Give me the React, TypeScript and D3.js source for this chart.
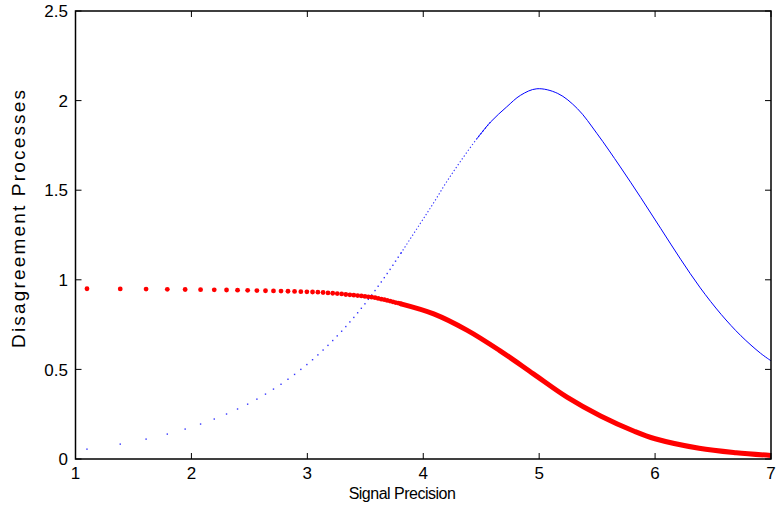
import React from 'react';
import * as d3 from 'd3';

// sample positions of the markers (sparse part, left side)
const markerX = [
  1.099, 1.386, 1.609, 1.792, 1.946, 2.079, 2.197, 2.303, 2.398, 2.485,
  2.565, 2.639, 2.708, 2.773, 2.833, 2.890, 2.944, 2.996, 3.045, 3.091,
  3.136, 3.178, 3.219, 3.258, 3.296, 3.332, 3.367, 3.401, 3.434, 3.466,
  3.497, 3.526, 3.555, 3.584, 3.611, 3.638, 3.664, 3.689, 3.714, 3.738,
  3.761, 3.784, 3.807,
];

const blueMarkerY = [
  0.055, 0.083, 0.111, 0.139, 0.167, 0.195, 0.223, 0.251, 0.279, 0.306,
  0.334, 0.362, 0.390, 0.417, 0.445, 0.472, 0.500, 0.527, 0.554, 0.581,
  0.608, 0.634, 0.661, 0.687, 0.713, 0.739, 0.765, 0.790, 0.816, 0.841,
  0.866, 0.891, 0.915, 0.940, 0.964, 0.988, 1.012, 1.035, 1.058, 1.081,
  1.104, 1.126, 1.148,
];

const redMarkerY = [
  0.950, 0.949, 0.948, 0.947, 0.946, 0.945, 0.944, 0.943, 0.942, 0.941,
  0.940, 0.939, 0.938, 0.937, 0.936, 0.935, 0.934, 0.933, 0.932, 0.931,
  0.929, 0.927, 0.925, 0.923, 0.921, 0.918, 0.916, 0.914, 0.912, 0.910,
  0.907, 0.905, 0.903, 0.900, 0.896, 0.892, 0.889, 0.885, 0.881, 0.877,
  0.873, 0.870, 0.866,
];

// dense part (markers merge into a curve)
const blueCurveX = [3.807, 3.97, 4.09, 4.20, 4.32, 4.46, 4.58, 4.72, 4.84, 4.98, 5.16, 5.33, 5.50, 5.70, 5.875, 6.05, 6.22, 6.39, 6.57, 6.74, 6.91, 7.0];
const blueCurveY = [1.148, 1.31, 1.43, 1.545, 1.66, 1.785, 1.88, 1.965, 2.03, 2.066, 2.04, 1.955, 1.815, 1.63, 1.46, 1.285, 1.115, 0.955, 0.807, 0.688, 0.59, 0.548];

const redCurveX = [3.807, 4.09, 4.38, 4.66, 4.95, 5.24, 5.53, 5.82, 6.0, 6.38, 6.7, 7.0];
const redCurveY = [0.866, 0.81, 0.718, 0.605, 0.475, 0.345, 0.24, 0.155, 0.113, 0.06, 0.035, 0.02];

const xTicks = [1, 2, 3, 4, 5, 6, 7];
const yTicks = [0, 0.5, 1, 1.5, 2, 2.5];

const W = 777;
const H = 515;
const margin = { top: 11, right: 6, bottom: 56, left: 75.5 };

export default function App() {
  const x = d3.scaleLinear().domain([1, 7]).range([margin.left, W - margin.right]);
  const y = d3.scaleLinear().domain([0, 2.5]).range([H - margin.bottom, margin.top]);

  const line = d3.line<[number, number]>()
    .x(d => x(d[0]))
    .y(d => y(d[1]))
    .curve(d3.curveCatmullRom.alpha(0.5));

  const bluePts: [number, number][] = blueCurveX.map((v, i) => [v, blueCurveY[i]]);
  const redPts: [number, number][] = redCurveX.map((v, i) => [v, redCurveY[i]]);

  const x0 = x(1), x1 = x(7), y0 = y(0), y1 = y(2.5);
  const font = 'Arial, "Liberation Sans", Helvetica, sans-serif';

  return (
    <svg width={W} height={H} style={{ position: 'absolute', left: 0, top: 0, background: '#fff' }}>
      <defs>
        <clipPath id="plot">
          <rect x={x0} y={y1} width={x1 - x0} height={y0 - y1} />
        </clipPath>
      </defs>

      {/* blue series */}
      <g clipPath="url(#plot)">
        {markerX.map((v, i) => (
          <rect key={'b' + i} x={x(v) - 0.7} y={y(blueMarkerY[i]) - 0.7} width={1.4} height={1.4} fill="#0000ff" opacity={0.8} />
        ))}
        <path d={line(bluePts.filter(d => d[0] <= 4.6)) || ''} fill="none" stroke="#0000ff" strokeWidth={1.1} strokeDasharray="1.3 2.2" opacity={0.8} />
        <path d={line(bluePts.filter(d => d[0] >= 4.46)) || ''} fill="none" stroke="#0000ff" strokeWidth={1} />
      </g>

      {/* red series */}
      <g clipPath="url(#plot)">
        {markerX.map((v, i) => (
          <circle key={'r' + i} cx={x(v)} cy={y(redMarkerY[i])} r={2.4} fill="#ff0000" />
        ))}
        <path d={line(redPts) || ''} fill="none" stroke="#ff0000" strokeWidth={5} strokeLinecap="round" />
      </g>

      {/* frame */}
      <rect x={x0} y={y1} width={x1 - x0} height={y0 - y1} fill="none" stroke="#000" strokeWidth={1.5} />

      {/* x ticks */}
      {xTicks.map(t => (
        <g key={'xt' + t}>
          <line x1={x(t)} x2={x(t)} y1={y0} y2={y0 - 6} stroke="#000" strokeWidth={1} />
          <line x1={x(t)} x2={x(t)} y1={y1} y2={y1 + 6} stroke="#000" strokeWidth={1} />
          <text x={x(t)} y={479} textAnchor="middle" fontFamily={font} fontSize={17} fill="#000">{t}</text>
        </g>
      ))}

      {/* y ticks */}
      {yTicks.map(t => (
        <g key={'yt' + t}>
          <line x1={x0} x2={x0 + 6} y1={y(t)} y2={y(t)} stroke="#000" strokeWidth={1} />
          <line x1={x1} x2={x1 - 6} y1={y(t)} y2={y(t)} stroke="#000" strokeWidth={1} />
          <text x={68} y={y(t)} dy="0.36em" textAnchor="end" fontFamily={font} fontSize={17} fill="#000">{t}</text>
        </g>
      ))}

      <text x={402} y={499} textAnchor="middle" fontFamily={font} fontSize={16} letterSpacing={-0.5} fill="#000">Signal Precision</text>
      <text transform={`translate(25,219) rotate(-90)`} textAnchor="middle" fontFamily={font} fontSize={19} textLength={258} lengthAdjust="spacing" fill="#000">Disagreement Processes</text>
    </svg>
  );
}
